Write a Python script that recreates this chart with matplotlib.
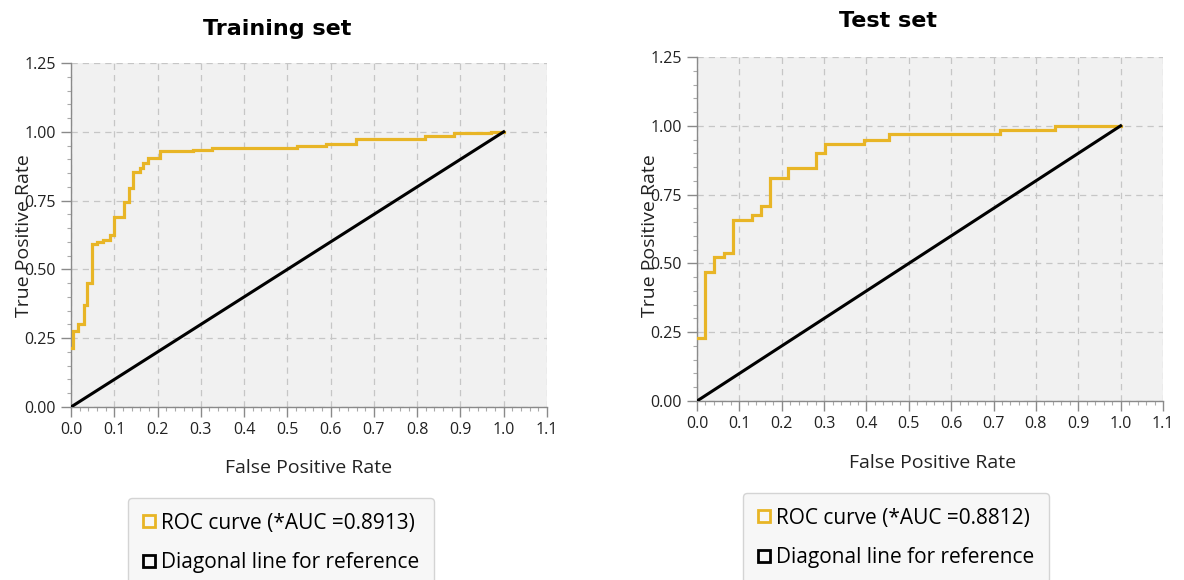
import matplotlib
matplotlib.use("Agg")
import matplotlib.pyplot as plt
from matplotlib.lines import Line2D
from matplotlib.ticker import MultipleLocator

# ---- data ----
titles = ["Training set", "Test set"]
auc_values = [0.8913, 0.8812]

train_fpr = [0, 0.005, 0.017, 0.029, 0.038, 0.049, 0.060, 0.073, 0.090, 0.100,
             0.123, 0.134, 0.144, 0.160, 0.167, 0.177, 0.206, 0.283, 0.326,
             0.523, 0.59, 0.658, 0.819, 0.885, 0.97, 1.0]
train_tpr = [0.215, 0.275, 0.303, 0.37, 0.45, 0.593, 0.60, 0.607, 0.625, 0.69,
             0.746, 0.795, 0.855, 0.867, 0.885, 0.903, 0.93, 0.934, 0.94,
             0.948, 0.957, 0.975, 0.984, 0.994, 1.0, 1.0]

test_fpr = [0, 0.019, 0.040, 0.064, 0.086, 0.129, 0.150, 0.172, 0.215, 0.282,
            0.302, 0.395, 0.454, 0.715, 0.846, 1.0]
test_tpr = [0.228, 0.468, 0.522, 0.537, 0.658, 0.676, 0.709, 0.811, 0.845, 0.9,
            0.933, 0.95, 0.97, 0.984, 1.0, 1.0]

diag_x = [0, 1]
diag_y = [0, 1]

x_ticks = [0.0, 0.1, 0.2, 0.3, 0.4, 0.5, 0.6, 0.7, 0.8, 0.9, 1.0, 1.1]
y_ticks = [0.00, 0.25, 0.50, 0.75, 1.00, 1.25]

curves = [(train_fpr, train_tpr), (test_fpr, test_tpr)]

# ---- style ----
plt.rcParams['font.family'] = ['Open Sans', 'DejaVu Sans']
W, H = 1184, 580
fig = plt.figure(figsize=(W / 100, H / 100), dpi=100)
fig.patch.set_facecolor('white')

ROC_COLOR = '#E8B526'
GRID_COLOR = '#c6c6c6'
AX_COLOR = '#8a8a8a'

# pixel geometry: (left, right, top, bottom)
ax_px = [(71, 547, 63, 407), (697, 1163, 57, 401)]
title_px = [(277, 29), (888, 21)]
xlabel_px = [(309, 468), (933, 463)]
ylabel_px = [(24, 236), (650, 236)]
legend_px = [(128, 498), (743, 493)]

for i in range(2):
    l, r, t, b = ax_px[i]
    ax = fig.add_axes([l / W, 1 - b / H, (r - l) / W, (b - t) / H])
    ax.set_facecolor('#f1f1f1')
    fpr, tpr = curves[i]
    ax.plot(fpr, tpr, drawstyle='steps-post', color=ROC_COLOR, lw=2.3,
            solid_joinstyle='miter', zorder=3)
    ax.plot(diag_x, diag_y, color='black', lw=2.2, zorder=3)

    ax.set_xlim(0, 1.1)
    ax.set_ylim(0, 1.25)
    ax.set_xticks(x_ticks)
    ax.set_yticks(y_ticks)
    ax.set_xticklabels([f"{v:.1f}" for v in x_ticks])
    ax.set_yticklabels([f"{v:.2f}" for v in y_ticks])
    ax.xaxis.set_minor_locator(MultipleLocator(0.02))
    ax.yaxis.set_minor_locator(MultipleLocator(0.05))
    ax.tick_params(which='major', length=7, width=1, color=AX_COLOR,
                   labelsize=11.5, labelcolor='#222222', pad=4)
    ax.tick_params(which='minor', length=3, width=0.8, color='#aaaaaa')
    ax.grid(True, which='major', linestyle=(0, (5, 4)), color=GRID_COLOR, lw=0.9)
    for s in ['top', 'right']:
        ax.spines[s].set_visible(False)
    for s in ['left', 'bottom']:
        ax.spines[s].set_color(AX_COLOR)
        ax.spines[s].set_linewidth(1.0)
    ax.set_axisbelow(True)

    fig.text(title_px[i][0] / W, 1 - title_px[i][1] / H, titles[i],
             ha='center', va='center', fontsize=16, fontweight='bold',
             family=['DejaVu Sans'])
    fig.text(xlabel_px[i][0] / W, 1 - xlabel_px[i][1] / H, "False Positive Rate",
             ha='center', va='center', fontsize=14, color='#222222')
    fig.text(ylabel_px[i][0] / W, 1 - ylabel_px[i][1] / H, "True Positive Rate",
             ha='center', va='center', fontsize=14, rotation=90, color='#222222')

    handles = [
        Line2D([], [], linestyle='none', marker='s', markersize=9,
               markerfacecolor='none', markeredgecolor=ROC_COLOR, markeredgewidth=2.0),
        Line2D([], [], linestyle='none', marker='s', markersize=9,
               markerfacecolor='none', markeredgecolor='black', markeredgewidth=2.0),
    ]
    labels = [f"ROC curve (*AUC ={auc_values[i]:.4f})", "Diagonal line for reference"]
    leg = fig.legend(handles, labels, loc='upper left',
                     bbox_to_anchor=(legend_px[i][0] / W, 1 - legend_px[i][1] / H),
                     fontsize=15, frameon=True, fancybox=True,
                     handlelength=0.6, handletextpad=0.3, labelspacing=0.9,
                     borderpad=0.7, borderaxespad=0)
    leg.get_frame().set_facecolor('#f7f7f7')
    leg.get_frame().set_edgecolor('#d4d4d4')
    leg.get_frame().set_linewidth(1.0)
    leg.get_frame().set_alpha(1)

fig.savefig('out.png', dpi=100)
